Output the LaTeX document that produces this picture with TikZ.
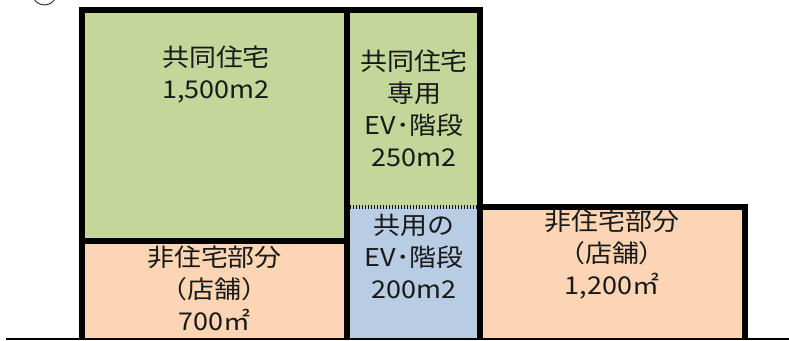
\documentclass[tikz,border=0pt]{standalone}
\usepackage{fontspec}
\newfontfamily\jp[FakeStretch=1.1]{Noto Sans CJK JP}
\newfontfamily\jpc{Noto Sans CJK JP}
\definecolor{greenfill}{HTML}{C4D79B}
\definecolor{peachfill}{HTML}{FCD5B4}
\definecolor{bluefill}{HTML}{B8CCE4}
\tikzset{
  label/.style={align=center, inner sep=0pt, font=\jp\fontsize{24.5}{32}\selectfont, text=black!90},
  wall/.style={line width=6pt, line join=miter, line cap=butt},
  dotline/.style={line width=4pt, dash pattern=on 1.4pt off 1.6pt},
  ground/.style={line width=2pt}
}
\begin{document}
\begin{tikzpicture}[x=1pt,y=-1pt]
\useasboundingbox (0,0) rectangle (789,340);
% fills
\fill[greenfill] (82,10) rectangle (347,240.5);
\fill[peachfill] (82,240.5) rectangle (347,338);
\fill[greenfill] (347,10) rectangle (480,207);
\fill[bluefill] (347,207) rectangle (480,338);
\fill[peachfill] (480,207) rectangle (745,338);
% corner coordinates
\coordinate (tl) at (82,10);
\coordinate (tm) at (347,10);
\coordinate (tr) at (480,10);
\coordinate (bl) at (82,338);
\coordinate (bm) at (347,338);
\coordinate (br) at (480,338);
\coordinate (ml) at (82,240.5);
\coordinate (mm) at (347,240.5);
\coordinate (rt) at (480,207);
\coordinate (rtr) at (745,207);
\coordinate (rbr) at (745,338);
\coordinate (dl) at (350,207);
\coordinate (g0) at (6,339);
\coordinate (g1) at (789,339);
% walls
\draw[wall] (bl) -- (tl) -- (tr) -- (br);
\draw[wall] (tm) -- (bm);
\draw[wall] (ml) -- (mm);
\draw[wall] (rt) -- (rtr) -- (rbr);
\draw[dotline] (dl) -- (rt);
\draw[ground] (g0) -- (g1);
% labels
\node[label] (a) at (216,75) {共同住宅\\1,500m2};
\node[label] (b) at (414,108.5) {共同住宅\\専用\\EV･階段\\250m2};
\node[label] (c) at (414,256.5) {共用の\\EV･階段\\200m2};
\node[label] (d) at (214.5,288) {非住宅部分\\（店舗）\\700㎡};
\node[label] (e) at (612,255) {非住宅部分\\（店舗）\\1,200㎡};
\node[inner sep=0pt, font=\jpc\fontsize{27}{27}\selectfont] (n) at (45,-7) {②};
\end{tikzpicture}
\end{document}
